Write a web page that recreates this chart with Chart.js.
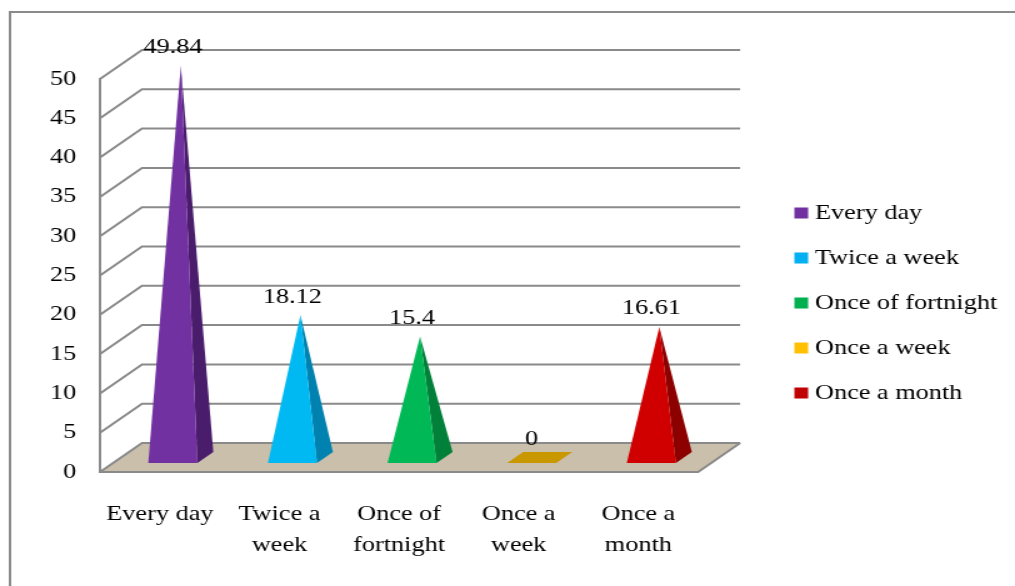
<!DOCTYPE html>
<html>
<head>
<meta charset="utf-8">
<script src="https://cdn.jsdelivr.net/npm/chart.js@4.4.1/dist/chart.umd.min.js"></script>
<style>
  html, body { margin: 0; padding: 0; background: #fff; overflow: hidden; }
  /* the chart is drawn narrow and widened, giving the broad serif lettering */
  #wrap { width: 812px; height: 586px; transform: scaleX(1.25); transform-origin: 0 0; }
</style>
</head>
<body>
<div id="wrap"><canvas id="chart" width="812" height="586"></canvas></div>
<script>
// ---- data ----
const categories = [['Every day'], ['Twice a', 'week'], ['Once of', 'fortnight'], ['Once a', 'week'], ['Once a', 'month']];
const legendNames = ['Every day', 'Twice a week', 'Once of fortnight', 'Once a week', 'Once a month'];
const values = [49.84, 18.12, 15.4, 0, 16.61];
const yMin = 0, yMax = 50, yStep = 5;

// ---- colours ----
const legendColors = ['#7030a0', '#00b0f0', '#00b050', '#ffc000', '#c00000'];
const frontColors  = ['#7231a1', '#00b9f2', '#00b956', '#ffc000', '#d00000'];
const sideColors   = ['#4a1c6c', '#0082b0', '#008039', '#c79500', '#8c0000'];
const baseColors   = ['#5a2484', '#0099d0', '#009a46', '#c99700', '#a00000'];

const FONT = "'Liberation Serif', 'Times New Roman', serif";
const GRID = '#8a8a8a';

// oblique depth of the 3-D box and where the pyramids sit inside it
const DX = 33.6, DY = -29;
const NEAR = 0.31, FAR = 0.69;

const scene = {
  id: 'scene',
  beforeDraw(chart) {
    const { ctx, chartArea: a, scales: { y } } = chart;
    ctx.save();
    ctx.fillStyle = '#fff';
    ctx.fillRect(0, 0, chart.width, chart.height);
    // outer frame
    ctx.strokeStyle = GRID;
    ctx.lineWidth = 2;
    ctx.strokeRect(8, 12, chart.width + 40, chart.height + 40);
    // floor
    ctx.fillStyle = '#c9bfab';
    ctx.beginPath();
    ctx.moveTo(a.left, a.bottom);
    ctx.lineTo(a.left + DX, a.bottom + DY);
    ctx.lineTo(a.right + DX, a.bottom + DY);
    ctx.lineTo(a.right, a.bottom);
    ctx.closePath();
    ctx.fill();
    // side wall diagonals and back wall gridlines
    ctx.strokeStyle = GRID;
    ctx.lineWidth = 2;
    y.ticks.forEach(t => {
      const py = y.getPixelForValue(t.value);
      ctx.beginPath();
      ctx.moveTo(a.left, py);
      ctx.lineTo(a.left + DX, py + DY);
      ctx.lineTo(a.right + DX, py + DY);
      ctx.stroke();
    });
    // right edge of the floor
    ctx.beginPath();
    ctx.moveTo(a.right + DX, a.bottom + DY);
    ctx.lineTo(a.right, a.bottom);
    ctx.stroke();
    ctx.restore();
  },
  afterDatasetsDraw(chart) {
    const ctx = chart.ctx;
    const meta = chart.getDatasetMeta(0);
    ctx.save();
    meta.data.forEach((bar, i) => {
      const hw = bar.width / 2;
      const fl = [bar.x - hw + NEAR * DX, bar.base + NEAR * DY];
      const fr = [bar.x + hw + NEAR * DX, bar.base + NEAR * DY];
      const br = [bar.x + hw + FAR * DX, bar.base + FAR * DY];
      const bl = [bar.x - hw + FAR * DX, bar.base + FAR * DY];
      const apex = [bar.x + 0.5 * DX, bar.y + 0.5 * DY];
      const poly = (pts, color) => {
        ctx.fillStyle = color;
        ctx.beginPath();
        ctx.moveTo(pts[0][0], pts[0][1]);
        for (let k = 1; k < pts.length; k++) ctx.lineTo(pts[k][0], pts[k][1]);
        ctx.closePath();
        ctx.fill();
      };
      if (values[i] === 0) {
        poly([fl, fr, br, bl], baseColors[i]);
      } else {
        poly([fr, br, apex], sideColors[i]);
        poly([fl, fr, apex], frontColors[i]);
      }
      // value label
      ctx.fillStyle = '#000';
      ctx.font = `21px ${FONT}`;
      ctx.textAlign = 'center';
      ctx.textBaseline = 'middle';
      ctx.fillText(String(values[i]), bar.x + NEAR * DX, apex[1] - 18);
    });
    ctx.restore();
  }
};

new Chart(document.getElementById('chart'), {
  type: 'bar',
  data: {
    labels: categories,
    datasets: [{
      data: values,
      xAxisID: 'x',
      yAxisID: 'y',
      backgroundColor: 'rgba(0,0,0,0)',
      borderWidth: 0,
      categoryPercentage: 1,
      barPercentage: 0.41
    }]
  },
  options: {
    responsive: false,
    animation: false,
    devicePixelRatio: 1,
    layout: { padding: { left: 0, top: 79, right: 5.5, bottom: 0 } },
    scales: {
      x: {
        offset: true,
        grid: { display: false, drawTicks: false },
        border: { display: true, color: GRID, width: 2 },
        ticks: {
          color: '#000',
          font: { family: FONT, size: 21, lineHeight: 31 / 21 },
          padding: 26.5,
          maxRotation: 0,
          autoSkip: false
        },
        afterFit(s) { s.height = 114; }
      },
      y: {
        min: yMin,
        max: yMax,
        grid: { display: false, drawTicks: false },
        border: { display: true, color: GRID, width: 2 },
        ticks: {
          stepSize: yStep,
          color: '#000',
          font: { family: FONT, size: 21 },
          padding: 19
        },
        afterFit(s) { s.width = 80; }
      },
      gap: {
        type: 'linear',
        position: 'right',
        display: true,
        grid: { display: false, drawTicks: false },
        border: { display: false },
        ticks: { display: false },
        afterFit(s) { s.width = 58; }
      }
    },
    plugins: {
      tooltip: { enabled: false },
      legend: {
        position: 'right',
        align: 'center',
        fullSize: false,
        maxWidth: 190,
        title: { display: true, text: '', padding: 0, font: { family: FONT, size: 21, lineHeight: '55px' } },
        labels: {
          usePointStyle: true,
          boxWidth: 1,
          boxHeight: 11,
          padding: 24,
          color: '#000',
          font: { family: FONT, size: 21 },
          generateLabels: () => legendNames.map((t, i) => ({
            text: t,
            fillStyle: legendColors[i],
            strokeStyle: legendColors[i],
            fontColor: '#000',
            pointStyle: 'rect',
            rotation: 0,
            lineWidth: 0,
            hidden: false,
            index: i
          }))
        }
      }
    }
  },
  plugins: [scene]
});
</script>
</body>
</html>
